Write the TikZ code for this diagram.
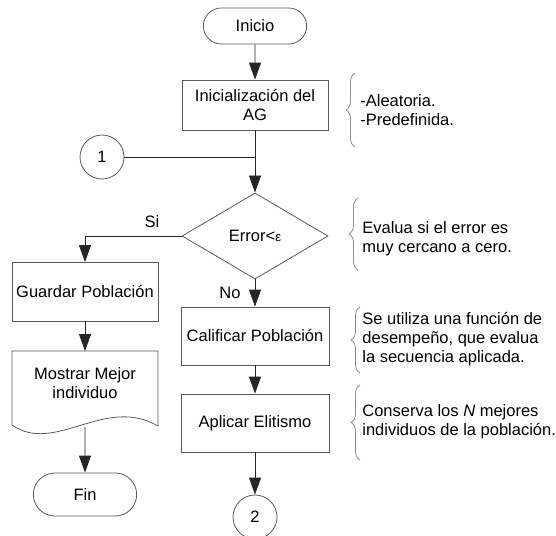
\documentclass[tikz,border=0pt]{standalone}
\usepackage{fontspec}
\setmainfont{Liberation Sans}
\usepackage{tikz}
\usetikzlibrary{arrows.meta, positioning, calc, shapes.geometric, shapes.misc, decorations.pathreplacing}
\definecolor{edgegray}{rgb}{0.35,0.35,0.35}
\definecolor{bracegray}{rgb}{0.55,0.55,0.55}

\begin{document}
\begin{tikzpicture}[x=1pt, y=-1pt, line width=0.8pt,
        font=\fontsize{16.5}{19}\selectfont,
        term/.style={rounded rectangle, draw=edgegray, minimum width=110pt, minimum height=36pt},
        proc/.style={rectangle, draw=edgegray, minimum width=146pt, align=center, inner sep=2pt},
        conn/.style={circle, draw=edgegray, minimum size=44pt, inner sep=0pt},
        flow/.style={draw=black!85, -{Triangle[length=17pt, width=12pt]}},
        note/.style={anchor=west, align=left, inner sep=0pt},
        curly/.style={draw=bracegray, decorate, decoration={brace, amplitude=9pt}}]
        \useasboundingbox (0,0) rectangle (556,535);

        % Main column
        \node[term] (inicio) at (255,26) {Inicio};
        \node[proc, minimum height=50pt] (init) at (255,105) {Inicialización del\\AG};
        \node[conn] (con1) at (102,157) {1};
        \coordinate (join) at (255,157);
        \node[diamond, draw=edgegray, minimum width=146pt, minimum height=86pt, inner sep=0pt] (error) at (255,236) {Error<{\fontsize{13}{13}\selectfont ε}};
        \node[proc, minimum width=148pt, minimum height=58pt] (calif) at (255,336) {Calificar Población};
        \node[proc, minimum width=148pt, minimum height=58pt] (elit) at (255,423) {Aplicar Elitismo};
        \node[conn] (con2) at (255,517) {2};

        % Left column
        \node[proc, minimum height=59pt] (guardar) at (85,292) {Guardar Población};
        \draw[edgegray] (12,425) -- (12,351) -- (158,351) -- (158,426)
            .. controls (105,395) and (55,455) .. (12,425);
        \coordinate (doctop) at (85,351);
        \coordinate (docend) at (85,427);
        \node[align=center] (mostrar) at (85,383) {Mostrar Mejor\\individuo};
        \node[term, minimum height=43pt] (fin) at (85,494.5) {Fin};

        % Connectors
        \draw[flow] (inicio) -- (init);
        \draw[flow] (init) -- (error);
        \draw[black!85] (con1) -- (join);
        \draw[flow] (error.west) -| (guardar.north);
        \node (si) at (152,222) {Si};
        \draw[flow] (error) -- (calif);
        \node (no) at (230,293) {No};
        \draw[flow] (calif) -- (elit);
        \draw[flow] (elit) -- (con2);
        \draw[flow] (guardar) -- (doctop);
        \draw[flow] (docend) -- (fin);

        % Comments
        \draw[curly] (355,147) -- (355,73);
        \node[note] (n1) at (360,110) {-Aleatoria.\\-Predefinida.};
        \draw[curly] (358,270) -- (358,198);
        \node[note] (n2) at (362,239) {Evalua si el error es\\muy cercano a cero.};
        \draw[curly] (360,373) -- (360,307);
        \node[note] (n3) at (362,339) {Se utiliza una función de\\desempeño, que evalua\\la secuencia aplicada.};
        \draw[curly] (360,460) -- (360,385);
        \node[note] (n4) at (362,422) {Conserva los \textit{N} mejores\\individuos de la población.};
    \end{tikzpicture}
\end{document}
